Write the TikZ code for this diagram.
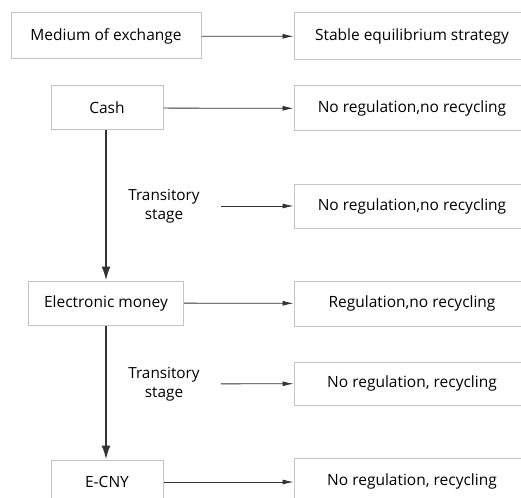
\documentclass[tikz,border=0pt]{standalone}
\usepackage{fontspec}
\setmainfont{Open Sans}
\usepackage{tikz}
\usetikzlibrary{arrows.meta,positioning,calc}
\definecolor{Ink}{HTML}{333333}
\definecolor{Rim}{HTML}{C4C4C4}

\begin{document}
\begin{tikzpicture}[
  x=1pt, y=-1pt,
  box/.style={draw=Rim, line width=1pt, fill=white, minimum height=45pt, inner sep=0pt, font=\fontsize{15.5}{18}\selectfont},
  side/.style={box, minimum width=236pt},
  stage/.style={align=center, inner xsep=21pt, font=\fontsize{15.3}{19}\selectfont},
  arrow/.style={-{Latex[length=11pt, width=5pt]}, line width=0.8pt, draw=Ink},
  flow/.style={-{Latex[length=14pt, width=9pt]}, line width=2pt, draw=Ink}
]
  \useasboundingbox (0,0) rectangle (521,497);
  \node[box, minimum width=190pt, minimum height=46pt] (medium) at (106,36) {Medium of exchange};
  \node[side, minimum height=47pt] (stable) at (412,36.5) {Stable equilibrium strategy};
  \node[box, minimum width=112pt, minimum height=44pt] (cash) at (107,108) {Cash};
  \node[side] (cashout) at (412,108.5) {No regulation,no recycling};
  \node[stage] (stage1) at (164,206) {Transitory\\stage};
  \node[side, minimum height=44pt] (stageout1) at (412,206) {No regulation,no recycling};
  \node[box, minimum width=155pt, minimum height=44pt] (emoney) at (106,303) {Electronic money};
  \node[side] (emoneyout) at (412,303.5) {Regulation,no recycling};
  \node[stage] (stage2) at (164,384) {Transitory\\stage};
  \node[side, minimum height=43pt] (stageout2) at (412,383.5) {No regulation, recycling};
  \node[box, minimum width=112pt, minimum height=44pt] (ecny) at (107,482) {E-CNY};
  \node[side, minimum height=46pt] (ecnyout) at (412,481) {No regulation, recycling};
  \draw[arrow] (medium) -- (stable);
  \draw[arrow] (cash) -- (cashout);
  \draw[arrow] (stage1) -- (stageout1);
  \draw[arrow] (emoney) -- (emoneyout);
  \draw[arrow] (stage2) -- (stageout2);
  \draw[arrow] (ecny.east) -- (ecny.east -| ecnyout.west);
  \draw[flow] (cash.south -| emoney.north) -- (emoney.north);
  \draw[flow] (emoney.south) -- (emoney.south |- ecny.north);
\end{tikzpicture}
\end{document}
